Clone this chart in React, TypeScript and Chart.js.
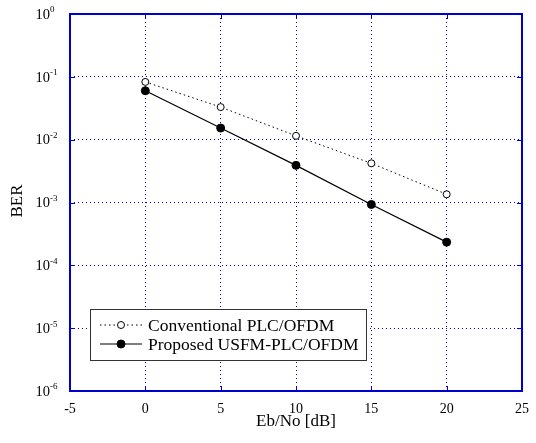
import React, { useEffect, useRef } from 'react';
import { Chart, registerables } from 'chart.js';

Chart.register(...registerables);

const snrDb = [0, 5, 10, 15, 20];
const conventionalBer = [0.083, 0.033, 0.0115, 0.0042, 0.00135];
const proposedBer = [0.06, 0.0153, 0.0039, 0.00093, 0.000234];
const xTickValues = [-5, 0, 5, 10, 15, 20, 25];
const yTickExponents = [0, -1, -2, -3, -4, -5, -6];
const seriesLabels = ['Conventional PLC/OFDM', 'Proposed USFM-PLC/OFDM'];
const xAxisTitle = 'Eb/No [dB]';
const yAxisTitle = 'BER';

const BLUE = '#0000cc';
const SERIF = '"Liberation Serif", "DejaVu Serif", serif';

const framePlugin = {
  id: 'matlabFrame',
  afterDraw(chart: any) {
    const { ctx, chartArea, scales } = chart;
    const { left, right, top, bottom } = chartArea;
    const xs = scales.x;
    const ys = scales.y;
    ctx.save();
    ctx.setLineDash([]);
    // inner ticks
    ctx.strokeStyle = BLUE;
    ctx.lineWidth = 1;
    ctx.beginPath();
    xTickValues.forEach((v) => {
      const px = Math.round(xs.getPixelForValue(v)) + 0.5;
      ctx.moveTo(px, bottom);
      ctx.lineTo(px, bottom - 5);
      ctx.moveTo(px, top);
      ctx.lineTo(px, top + 5);
    });
    yTickExponents.forEach((e) => {
      const py = Math.round(ys.getPixelForValue(Math.pow(10, e))) + 0.5;
      ctx.moveTo(left, py);
      ctx.lineTo(left + 5, py);
      ctx.moveTo(right, py);
      ctx.lineTo(right - 5, py);
    });
    ctx.stroke();
    // frame
    ctx.lineWidth = 2;
    ctx.strokeRect(left, top, right - left, bottom - top);

    // x tick labels
    ctx.fillStyle = '#000';
    ctx.font = `14px ${SERIF}`;
    ctx.textAlign = 'center';
    ctx.textBaseline = 'middle';
    xTickValues.forEach((v) => {
      ctx.fillText(String(v), xs.getPixelForValue(v), bottom + 18);
    });
    // y tick labels with superscript
    yTickExponents.forEach((e) => {
      const py = ys.getPixelForValue(Math.pow(10, e));
      ctx.font = `14.5px ${SERIF}`;
      ctx.textAlign = 'right';
      ctx.textBaseline = 'middle';
      ctx.fillText('10', left - 20, py + 1);
      ctx.font = `9px ${SERIF}`;
      ctx.textAlign = 'left';
      ctx.fillText(String(e), left - 20, py - 4);
    });
    // axis titles
    ctx.font = `17px ${SERIF}`;
    ctx.textAlign = 'center';
    ctx.textBaseline = 'middle';
    ctx.fillText(xAxisTitle, (left + right) / 2, bottom + 31);
    ctx.save();
    ctx.translate(18, 201);
    ctx.rotate(-Math.PI / 2);
    ctx.fillText(yAxisTitle, 0, 0);
    ctx.restore();

    // legend
    const bx = 90.5, by = 309.5, bw = 276, bh = 51;
    ctx.fillStyle = '#fff';
    ctx.fillRect(bx, by, bw, bh);
    ctx.strokeStyle = '#333';
    ctx.lineWidth = 1;
    ctx.strokeRect(bx, by, bw, bh);
    const rows = [325, 344];
    chart.data.datasets.forEach((ds: any, i: number) => {
      const ry = rows[i];
      ctx.strokeStyle = '#000';
      ctx.lineWidth = ds.borderWidth;
      ctx.setLineDash(ds.borderDash || []);
      ctx.beginPath();
      ctx.moveTo(100, ry);
      ctx.lineTo(142, ry);
      ctx.stroke();
      ctx.setLineDash([]);
      ctx.beginPath();
      ctx.arc(121, ry, ds.pointRadius, 0, Math.PI * 2);
      ctx.fillStyle = ds.pointBackgroundColor;
      ctx.fill();
      ctx.lineWidth = 1;
      ctx.strokeStyle = '#000';
      ctx.stroke();
      ctx.fillStyle = '#000';
      ctx.font = `17.5px ${SERIF}`;
      ctx.textAlign = 'left';
      ctx.textBaseline = 'middle';
      ctx.fillText(ds.label, 148, ry + 1);
    });
    ctx.restore();
  },
};

export default function App() {
  const ref = useRef<HTMLCanvasElement>(null);
  useEffect(() => {
    if (!ref.current) return;
    const chart = new Chart(ref.current, {
      type: 'line',
      data: {
        datasets: [
          {
            label: seriesLabels[0],
            data: snrDb.map((x, i) => ({ x, y: conventionalBer[i] })),
            borderColor: '#000',
            borderWidth: 1,
            borderDash: [1.5, 3],
            pointRadius: 3.5,
            pointBackgroundColor: '#fff',
            pointBorderColor: '#000',
            pointBorderWidth: 1,
          },
          {
            label: seriesLabels[1],
            data: snrDb.map((x, i) => ({ x, y: proposedBer[i] })),
            borderColor: '#000',
            borderWidth: 1.2,
            pointRadius: 4,
            pointBackgroundColor: '#000',
            pointBorderColor: '#000',
            pointBorderWidth: 1,
          },
        ],
      },
      options: {
        animation: false,
        responsive: false,
        events: [],
        layout: { padding: { left: 70, top: 14, right: 14, bottom: 52 } },
        plugins: { legend: { display: false }, tooltip: { enabled: false } },
        scales: {
          x: {
            type: 'linear',
            min: -5,
            max: 25,
            afterBuildTicks: (s: any) => {
              s.ticks = xTickValues.map((v) => ({ value: v }));
            },
            ticks: { display: false },
            grid: { color: BLUE, lineWidth: 1, drawTicks: false },
            border: { display: false, dash: [1, 3] },
          },
          y: {
            type: 'logarithmic',
            min: 1e-6,
            max: 1,
            afterBuildTicks: (s: any) => {
              s.ticks = yTickExponents.map((e) => ({ value: Math.pow(10, e) }));
            },
            ticks: { display: false },
            grid: { color: BLUE, lineWidth: 1, drawTicks: false },
            border: { display: false, dash: [1, 3] },
          },
        },
      },
      plugins: [framePlugin],
    });
    return () => chart.destroy();
  }, []);
  return (
    <div style={{ position: 'absolute', left: 0, top: 0, width: 536, height: 443, background: '#fff' }}>
      <canvas ref={ref} width={536} height={443} />
    </div>
  );
}
